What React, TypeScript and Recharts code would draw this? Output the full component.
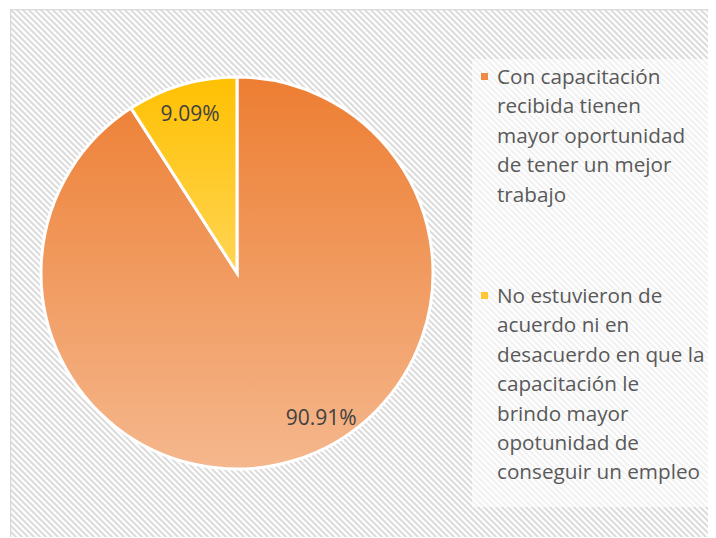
import React from "react";
import { Cell, Legend, Pie, PieChart } from "recharts";

const categories = [
  "Con capacitación recibida tienen mayor oportunidad de tener un mejor trabajo",
  "No estuvieron de acuerdo ni en desacuerdo en que la capacitación le brindo mayor opotunidad de conseguir un empleo",
];
const percents = [90.91, 9.09];
const legendLines = [
  ["Con capacitación", "recibida tienen", "mayor oportunidad", "de tener un mejor", "trabajo"],
  [
    "No estuvieron de",
    "acuerdo ni en",
    "desacuerdo en que la",
    "capacitación le",
    "brindo mayor",
    "opotunidad de",
    "conseguir un empleo",
  ],
];

const data = categories.map((name, i) => ({ name, value: percents[i], lines: legendLines[i] }));

const W = 706;
const H = 528;
const CX = 222;
const CY = 259;
const R = 196;
const FONT = "'Open Sans', 'Noto Sans', sans-serif";
const fills = ["url(#gradOrange)", "url(#gradYellow)"];
const markerColors = ["#ef8a47", "#ffc733"];
// best-fit placement nudge (degrees) per slice label
const labelShift = [14, 0];

const RAD = Math.PI / 180;

function renderLabel(props: any) {
  const { cx, cy, midAngle, outerRadius, index, value } = props;
  const a = (midAngle + labelShift[index]) * RAD;
  const r = outerRadius * 0.85;
  const x = cx + r * Math.cos(a);
  const y = cy - r * Math.sin(a);
  return (
    <text
      x={x}
      y={y}
      fill="#404040"
      fontSize={21}
      fontFamily={FONT}
      textAnchor="middle"
      dominantBaseline="central"
    >
      {`${value.toFixed(2)}%`}
    </text>
  );
}

function LegendContent() {
  return (
    <div style={{ fontFamily: FONT, fontSize: 20.7, color: "#595959", width: 240 }}>
      {data.map((d, i) => (
        <div key={d.name} style={{ position: "relative", paddingLeft: 27, marginBottom: i === 0 ? 72 : 0 }}>
          <span
            style={{
              position: "absolute",
              left: 11,
              top: 11,
              width: 7,
              height: 7,
              background: markerColors[i],
            }}
          />
          {d.lines.map((l) => (
            <div key={l} style={{ lineHeight: "29.4px", whiteSpace: "nowrap" }}>
              {l}
            </div>
          ))}
        </div>
      ))}
    </div>
  );
}

export default function App() {
  return (
    <div style={{ position: "relative", width: W, height: H, marginLeft: 2, marginTop: 1 }}>
      <svg width={W} height={H} style={{ position: "absolute", left: 0, top: 0 }}>
        <defs>
          <pattern id="hatch" width="6" height="6" patternUnits="userSpaceOnUse">
            <rect width="6" height="6" fill="#ffffff" />
            <path d="M-1,-1 L7,7 M-1,5 L1,7 M5,-1 L7,1" stroke="#dcdcdc" strokeWidth={2} />
          </pattern>
        </defs>
        <rect x={0.5} y={0.5} width={W + 10} height={H + 10} fill="url(#hatch)" stroke="#d9d9d9" strokeWidth={1.5} />
        <rect x={462} y={50} width={244} height={448} fill="#ffffff" opacity={0.6} />
      </svg>
      <div style={{ position: "absolute", left: 0, top: 0 }}>
        <PieChart width={W} height={H}>
          <defs>
            <linearGradient id="gradOrange" gradientUnits="userSpaceOnUse" x1="0" y1={CY - R} x2="0" y2={CY + R + 10}>
              <stop offset="0" stopColor="#ed7d31" />
              <stop offset="1" stopColor="#f5b88e" />
            </linearGradient>
            <linearGradient id="gradYellow" gradientUnits="userSpaceOnUse" x1="0" y1={CY - R} x2="0" y2={CY + R + 10}>
              <stop offset="0" stopColor="#ffc000" />
              <stop offset="1" stopColor="#ffe9a8" />
            </linearGradient>
          </defs>
          <Pie
            data={data}
            dataKey="value"
            nameKey="name"
            cx={CX}
            cy={CY}
            outerRadius={R}
            startAngle={90}
            endAngle={-270}
            stroke="#ffffff"
            strokeWidth={3}
            label={renderLabel}
            labelLine={false}
            isAnimationActive={false}
          >
            {data.map((d, i) => (
              <Cell key={d.name} fill={fills[i]} />
            ))}
          </Pie>
          <Legend
            layout="vertical"
            verticalAlign="top"
            align="right"
            content={<LegendContent />}
            wrapperStyle={{ left: 460, top: 53, width: 246 }}
          />
        </PieChart>
      </div>
    </div>
  );
}
